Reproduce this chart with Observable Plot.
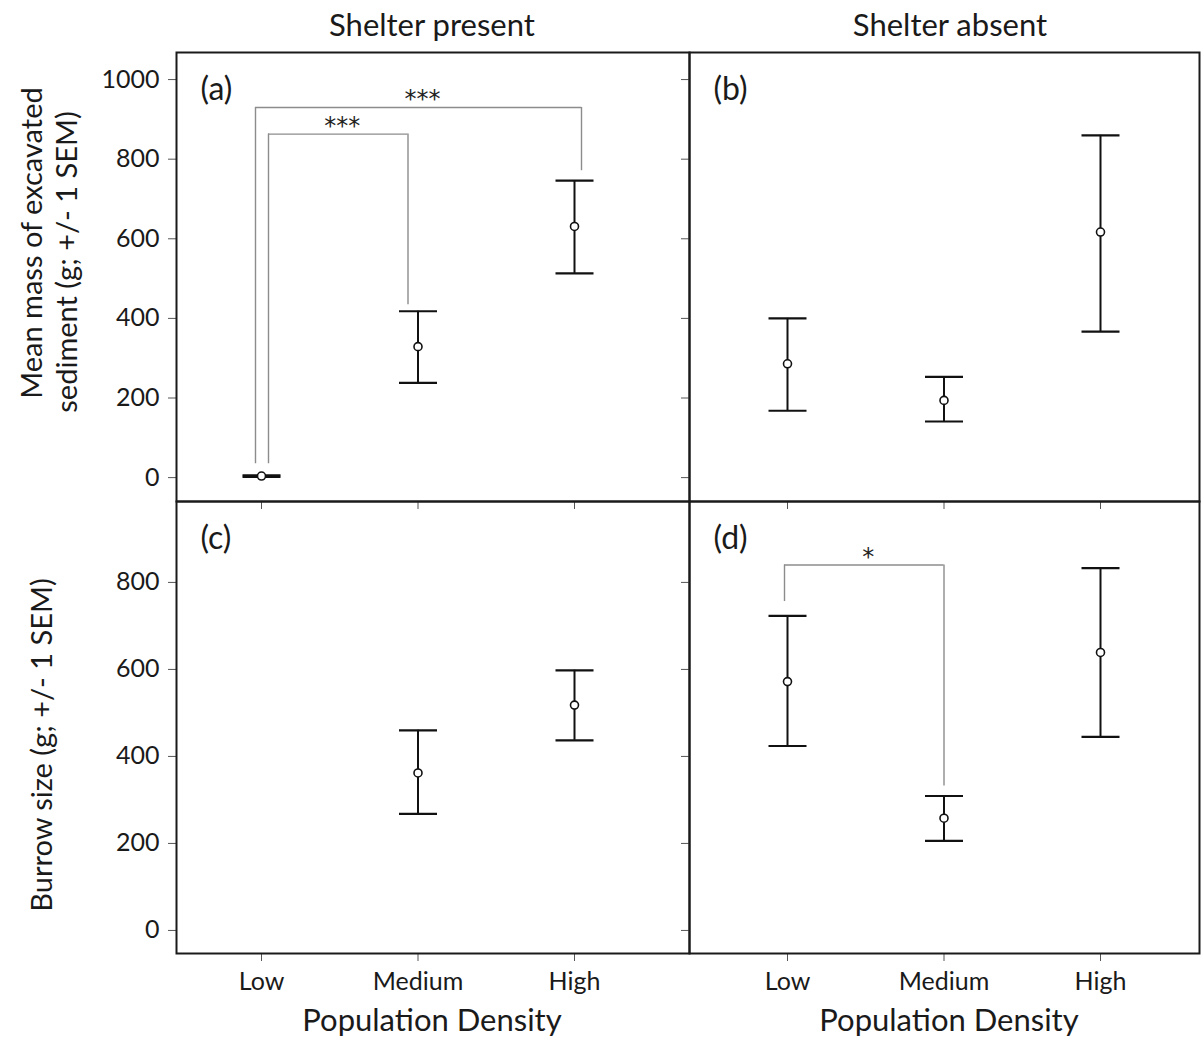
<!DOCTYPE html>
<html>
<head>
<meta charset="utf-8">
<script src="https://cdn.jsdelivr.net/npm/d3@7"></script>
<script src="https://cdn.jsdelivr.net/npm/@observablehq/plot@0.6"></script>
<style>
  body { margin: 0; background: #fff; }
  #chart { position: relative; width: 1201px; height: 1037px; overflow: hidden; background: #fff; font-family: Lato, sans-serif; }
  .panel { position: absolute; }
  #overlay { position: absolute; left: 0; top: 0; pointer-events: none; }
</style>
</head>
<body>
<div id="chart"></div>
<script>
// ---------------- data ----------------
const densities = ["Low", "Medium", "High"];
const yTicksMass = [0, 200, 400, 600, 800, 1000];
const yTicksBurrow = [0, 200, 400, 600, 800];

// (a) Shelter present – mean mass of excavated sediment (g), +/- 1 SEM
const massPresentMean = [4, 329, 631];
const massPresentLow  = [2, 238, 513];
const massPresentHigh = [6, 418, 746];

// (b) Shelter absent – mean mass of excavated sediment (g)
const massAbsentMean = [286, 194, 617];
const massAbsentLow  = [168, 141, 367];
const massAbsentHigh = [400, 253, 860];

// (c) Shelter present – burrow size (g); no value for Low
const burrowPresentMean = [null, 362, 518];
const burrowPresentLow  = [null, 268, 437];
const burrowPresentHigh = [null, 460, 598];

// (d) Shelter absent – burrow size (g)
const burrowAbsentMean = [572, 258, 639];
const burrowAbsentLow  = [424, 206, 445];
const burrowAbsentHigh = [723, 309, 833];

// significance brackets
const bracketsA = [
  {from: "Low", to: "High",   level: 930, fromEnd: 35, toEnd: 771, label: "***"},
  {from: "Low", to: "Medium", level: 863, fromEnd: 35, toEnd: 434, label: "***"}
];
const bracketsD = [
  {from: "Low", to: "Medium", level: 840, fromEnd: 756, toEnd: 332, label: "*"}
];

const panelLetters = ["(a)", "(b)", "(c)", "(d)"];
const columnTitles = ["Shelter present", "Shelter absent"];
const xTitle = "Population Density";
const yTitleTop = ["Mean mass of excavated", "sediment (g; +/- 1 SEM)"];
const yTitleBottom = "Burrow size (g; +/- 1 SEM)";

// ---------------- drawing ----------------
const rows = (mean, lo, hi) =>
  densities.map((d, i) => ({density: d, i, mean: mean[i], lo: lo[i], hi: hi[i]}))
           .filter(r => r.mean != null);

const idx = d => densities.indexOf(d);
const capSymbol = { draw(ctx) { ctx.moveTo(-19, 0); ctx.lineTo(19, 0); } };
const M = {l: 100, r: 10, t: 10, b: 60};
const chart = document.getElementById("chart");

function panel(p) {
  const w = p.x1 - p.x0, h = p.y1 - p.y0;
  const data = rows(p.mean, p.lo, p.hi);
  const marks = [
    Plot.axisY({ticks: p.yTicks, tickSize: 8, tickPadding: 9,
      tickFormat: p.showY ? d => String(d) : () => "", label: null,
      stroke: "#555", fill: "#1a1a1a", fontSize: 25}),
    Plot.axisX({ticks: [0, 1, 2], tickSize: 8, tickPadding: 11,
      tickFormat: p.showX ? i => densities[i] : () => "", label: null,
      stroke: "#555", fill: "#1a1a1a", fontSize: 25})
  ];
  (p.brackets || []).forEach((b, k) => {
    const [dA, dB] = p.legOffsets[k];
    const st = {stroke: "#8c8c8c", strokeWidth: 1.4};
    marks.push(
      Plot.ruleX([b], {x: d => idx(d.from), y1: "fromEnd", y2: "level", dx: dA, ...st}),
      Plot.ruleX([b], {x: d => idx(d.to), y1: "toEnd", y2: "level", dx: dB, ...st}),
      Plot.ruleY([b], {y: "level", x1: d => idx(d.from), x2: d => idx(d.to), insetLeft: dA, insetRight: -dB, ...st}),
      Plot.text([b], {x: d => (idx(d.from) + idx(d.to)) / 2, y: "level", text: "label",
        dx: (dA + dB) / 2 + 4, dy: 0, lineAnchor: "bottom", textAnchor: "middle",
        fontFamily: "DejaVu Sans, sans-serif", fontSize: 24, fill: "#222"})
    );
  });
  marks.push(
    Plot.ruleX(data, {x: "i", y1: "lo", y2: "hi", stroke: "#111", strokeWidth: 2}),
    Plot.dot(data, {x: "i", y: "lo", symbol: capSymbol, r: 19, fill: "none", stroke: "#111", strokeWidth: 2.2}),
    Plot.dot(data, {x: "i", y: "hi", symbol: capSymbol, r: 19, fill: "none", stroke: "#111", strokeWidth: 2.2}),
    Plot.dot(data, {x: "i", y: "mean", r: 4, fill: "white", stroke: "#111", strokeWidth: 1.6}),
    Plot.text([p.letter], {frameAnchor: "top-left", dx: 24, dy: 25, text: d => d,
      textAnchor: "start", lineAnchor: "top", fontSize: 32, fill: "#1a1a1a"}),
    Plot.frame({stroke: "#1a1a1a", strokeWidth: 2})
  );
  const svg = Plot.plot({
    width: w + M.l + M.r, height: h + M.t + M.b,
    marginLeft: M.l, marginRight: M.r, marginTop: M.t, marginBottom: M.b,
    x: {type: "linear", domain: [0, 2], range: [M.l + p.xLow - p.x0, M.l + p.xHigh - p.x0]},
    y: {domain: p.yDomain},
    style: {background: "transparent", fontFamily: "Lato, sans-serif", fontSize: "25px", overflow: "visible", maxWidth: "none"},
    marks
  });
  const div = document.createElement("div");
  div.className = "panel";
  div.style.left = (p.x0 - M.l) + "px";
  div.style.top = (p.y0 - M.t) + "px";
  div.appendChild(svg);
  chart.appendChild(div);
}

const massDomain = [-60, 1068];
const burrowDomain = [-53, 986];

panel({x0: 176, x1: 689, y0: 52, y1: 501, xLow: 261, xHigh: 574, yDomain: massDomain, yTicks: yTicksMass,
  showY: true, showX: false, mean: massPresentMean, lo: massPresentLow, hi: massPresentHigh,
  letter: panelLetters[0], brackets: bracketsA, legOffsets: [[-6, 7], [7, -10]]});
panel({x0: 689, x1: 1199, y0: 52, y1: 501, xLow: 787, xHigh: 1100, yDomain: massDomain, yTicks: yTicksMass,
  showY: false, showX: false, mean: massAbsentMean, lo: massAbsentLow, hi: massAbsentHigh,
  letter: panelLetters[1]});
panel({x0: 176, x1: 689, y0: 501, y1: 953, xLow: 261, xHigh: 574, yDomain: burrowDomain, yTicks: yTicksBurrow,
  showY: true, showX: true, mean: burrowPresentMean, lo: burrowPresentLow, hi: burrowPresentHigh,
  letter: panelLetters[2]});
panel({x0: 689, x1: 1199, y0: 501, y1: 953, xLow: 787, xHigh: 1100, yDomain: burrowDomain, yTicks: yTicksBurrow,
  showY: false, showX: true, mean: burrowAbsentMean, lo: burrowAbsentLow, hi: burrowAbsentHigh,
  letter: panelLetters[3], brackets: bracketsD, legOffsets: [[-3, 0]]});

// titles
const ov = d3.select("#chart").append("svg").attr("id", "overlay")
  .attr("width", 1201).attr("height", 1037)
  .style("font-family", "Lato, sans-serif").style("fill", "#1a1a1a");
ov.append("text").attr("x", 432).attr("y", 36).attr("text-anchor", "middle").attr("font-size", 31).text(columnTitles[0]);
ov.append("text").attr("x", 950).attr("y", 36).attr("text-anchor", "middle").attr("font-size", 31).text(columnTitles[1]);
ov.append("text").attr("x", 432).attr("y", 1031).attr("text-anchor", "middle").attr("font-size", 31).text(xTitle);
ov.append("text").attr("x", 949).attr("y", 1031).attr("text-anchor", "middle").attr("font-size", 31).text(xTitle);
ov.append("text").attr("transform", "translate(42,243) rotate(-90)").attr("text-anchor", "middle").attr("font-size", 29).text(yTitleTop[0]);
ov.append("text").attr("transform", "translate(77,262) rotate(-90)").attr("text-anchor", "middle").attr("font-size", 29).text(yTitleTop[1]);
ov.append("text").attr("transform", "translate(52,745) rotate(-90)").attr("text-anchor", "middle").attr("font-size", 29).text(yTitleBottom);
</script>
</body>
</html>
